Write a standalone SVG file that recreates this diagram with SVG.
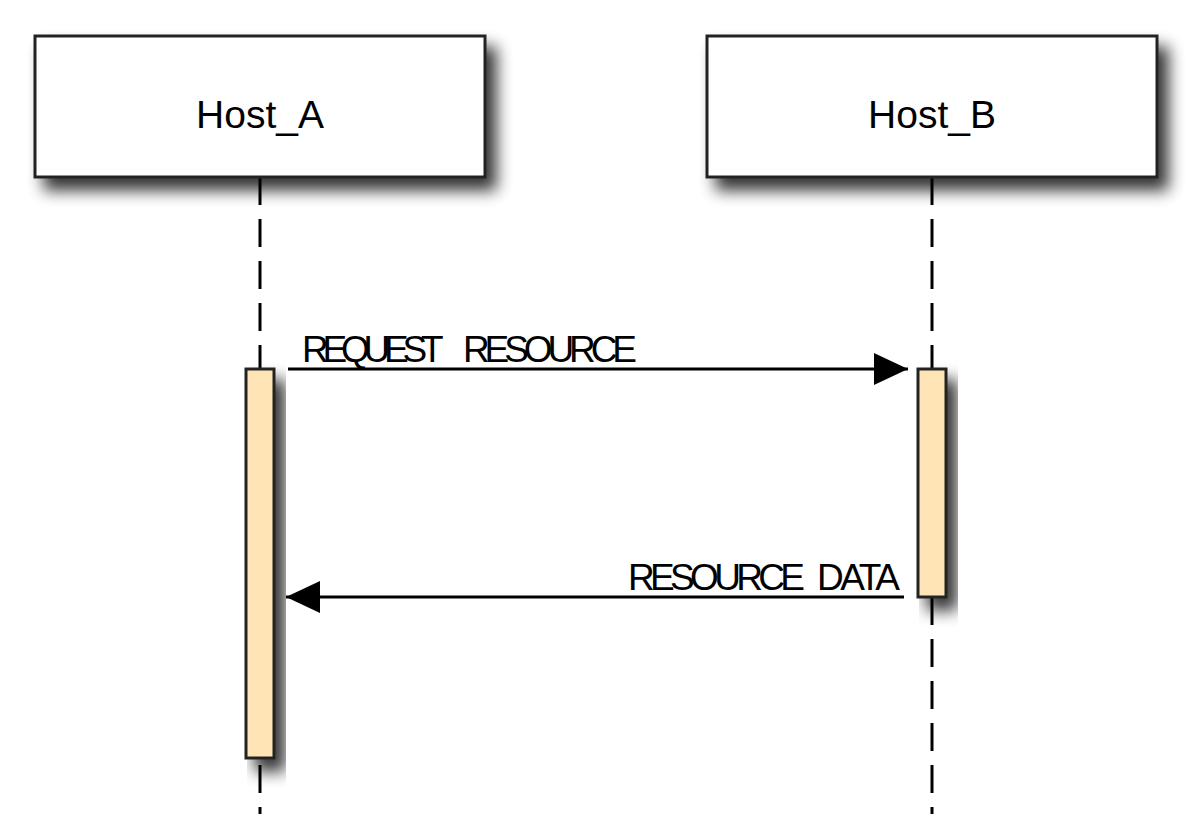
<svg xmlns="http://www.w3.org/2000/svg" width="1201" height="839" viewBox="0 0 1201 839">
<defs>
<filter id="sh" x="-30%" y="-30%" width="170%" height="180%">
<feGaussianBlur in="SourceAlpha" stdDeviation="8"/>
<feOffset dx="10" dy="12" result="b"/>
<feComponentTransfer><feFuncA type="linear" slope="0.8"/></feComponentTransfer>
<feMerge><feMergeNode/><feMergeNode in="SourceGraphic"/></feMerge>
</filter>
<marker id="ah" viewBox="0 0 34 32" refX="34" refY="16" markerWidth="34" markerHeight="32" markerUnits="userSpaceOnUse" orient="auto">
<path d="M0,0 L34,16 L0,32 Z" fill="#000"/>
</marker>
<style>
.box{fill:#fff;stroke:#222;stroke-width:3}
.act{fill:#ffe4b5;stroke:#222;stroke-width:3}
.life{stroke:#000;stroke-width:3;stroke-dasharray:28 14;fill:none}
.msg{stroke:#000;stroke-width:3;fill:none;marker-end:url(#ah)}
.t{font-family:"Liberation Sans",Arial,sans-serif;fill:#000}
</style>
</defs>
<rect width="1201" height="839" fill="#fff"/>
<g id="lifelines">
<line class="life" x1="260" y1="177" x2="260" y2="814"/>
<line class="life" x1="932" y1="177" x2="932" y2="814"/>
</g>
<g id="Host_A">
<rect class="box" x="35" y="36" width="450" height="141" filter="url(#sh)"/>
<text class="t" x="260" y="128" font-size="39" text-anchor="middle">Host_A</text>
</g>
<g id="Host_B">
<rect class="box" x="707" y="36" width="450" height="141" filter="url(#sh)"/>
<text class="t" x="932" y="128" font-size="39" text-anchor="middle">Host_B</text>
</g>
<g id="act_A">
<rect class="act" x="246" y="369" width="28" height="389" filter="url(#sh)"/>
</g>
<g id="act_B">
<rect class="act" x="918" y="369" width="28" height="228" filter="url(#sh)"/>
</g>
<g id="connectors">
<line class="msg" x1="288" y1="369" x2="908" y2="369"/>
<text class="t" y="362" font-size="37"><tspan x="302" textLength="141" lengthAdjust="spacing">REQUEST</tspan> <tspan x="463" textLength="174" lengthAdjust="spacing">RESOURCE</tspan></text>
<line class="msg" x1="904" y1="597" x2="286" y2="597"/>
<text class="t" y="590" font-size="37"><tspan x="628" textLength="177" lengthAdjust="spacing">RESOURCE</tspan> <tspan x="817" textLength="83" lengthAdjust="spacing">DATA</tspan></text>
</g>
</svg>
